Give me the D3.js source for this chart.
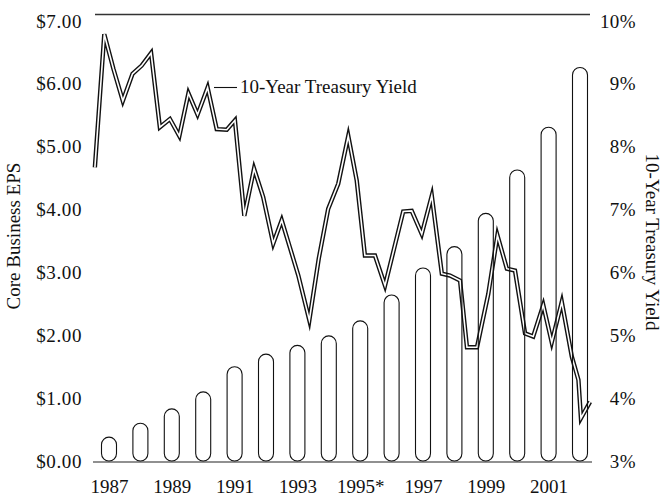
<!DOCTYPE html>
<html>
<head>
<meta charset="utf-8">
<script src="https://cdn.jsdelivr.net/npm/d3@7"></script>
<style>
  body { margin: 0; background: #fff; }
  svg { display: block; }
  text { font-family: "Liberation Serif", "Times New Roman", serif; fill: #111; }
</style>
</head>
<body>
<div id="chart"></div>
<script>
// core business EPS, one bar per year
const years = [1987, 1988, 1989, 1990, 1991, 1992, 1993, 1994, 1995, 1996, 1997, 1998, 1999, 2000, 2001, 2002];
const eps = [0.38, 0.60, 0.83, 1.10, 1.50, 1.70, 1.84, 1.99, 2.23, 2.64, 3.07, 3.41, 3.94, 4.63, 5.31, 6.26];

// 10-year treasury yield (decimal year, percent)
const yieldDates = [
  1987.05, 1987.35, 1987.64, 1987.94, 1988.25, 1988.54, 1988.84, 1989.12, 1989.44, 1989.74,
  1990.03, 1990.32, 1990.64, 1990.93, 1991.25, 1991.51, 1991.81, 1992.12, 1992.41, 1992.73,
  1993.00, 1993.26, 1993.53, 1993.88, 1994.18, 1994.48, 1994.80, 1995.12, 1995.39, 1995.65,
  1995.97, 1996.29, 1996.58, 1996.87, 1997.14, 1997.46, 1997.78, 1998.10, 1998.36, 1998.68,
  1998.90, 1999.22, 1999.58, 1999.87, 2000.17, 2000.43, 2000.75, 2001.01, 2001.33, 2001.60,
  2001.92, 2002.24, 2002.45, 2002.53, 2002.82
];
const yieldValues = [
  7.67, 9.79, 9.24, 8.73, 9.16, 9.29, 9.49, 8.31, 8.44, 8.17,
  8.85, 8.51, 8.94, 8.28, 8.27, 8.42, 6.90, 7.65, 7.20, 6.46,
  6.83, 6.40, 5.95, 5.24, 6.22, 7.01, 7.41, 8.17, 7.46, 6.27,
  6.27, 5.79, 6.38, 6.97, 6.98, 6.61, 7.22, 5.98, 5.95, 5.87,
  4.81, 4.81, 5.66, 6.59, 6.06, 6.03, 5.03, 4.98, 5.48, 4.89,
  5.53, 4.66, 4.29, 3.68, 3.94
];

const yearTicks = [1987, 1989, 1991, 1993, 1995, 1997, 1999, 2001];
const yearLabels = ["1987", "1989", "1991", "1993", "1995*", "1997", "1999", "2001"];
const epsTicks = [0, 1, 2, 3, 4, 5, 6, 7];
const yieldTicks = [3, 4, 5, 6, 7, 8, 9, 10];

const width = 663, height = 499;
const fontSize = 19;

const svg = d3.select("#chart")
  .append("svg")
  .attr("width", width)
  .attr("height", height);

const x = d3.scaleLinear().domain([1987, 2003]).range([93.3, 595.7]);
const yL = d3.scaleLinear().domain([0, 7]).range([461, 21]);
const yR = d3.scaleLinear().domain([3, 10]).range([461, 21]);

// frame lines
svg.append("line")
  .attr("x1", 95).attr("x2", 590)
  .attr("y1", 14.5).attr("y2", 14.5)
  .attr("stroke", "#333").attr("stroke-width", 1.4);

svg.append("line")
  .attr("x1", 93).attr("x2", 592)
  .attr("y1", yL(0) + 1).attr("y2", yL(0) + 1)
  .attr("stroke", "#222").attr("stroke-width", 1.2);

// treasury yield: outlined double line
const pts = yieldDates.map((t, i) => ({ t, v: yieldValues[i] }));
const line = d3.line()
  .x(d => x(d.t))
  .y(d => yR(d.v));

svg.append("path")
  .datum(pts)
  .attr("d", line)
  .attr("fill", "none")
  .attr("stroke", "#111")
  .attr("stroke-width", 4.4)
  .attr("stroke-linejoin", "miter")
  .attr("stroke-miterlimit", 6);

svg.append("path")
  .datum(pts)
  .attr("d", line)
  .attr("fill", "none")
  .attr("stroke", "#fff")
  .attr("stroke-width", 1.6)
  .attr("stroke-linejoin", "miter")
  .attr("stroke-miterlimit", 6);

// eps bars, pill shaped, no fill
const barW = 15;
svg.append("g")
  .selectAll("rect")
  .data(years)
  .join("rect")
  .attr("x", d => x(d + 0.5) - barW / 2)
  .attr("y", (d, i) => yL(eps[i]))
  .attr("width", barW)
  .attr("height", (d, i) => yL(0) - yL(eps[i]))
  .attr("rx", barW / 2)
  .attr("ry", barW / 2)
  .attr("fill", "none")
  .attr("stroke", "#111")
  .attr("stroke-width", 1.1);

// axes
const leftAxis = d3.axisLeft(yL)
  .tickValues(epsTicks)
  .tickSize(0)
  .tickPadding(4)
  .tickFormat(d3.format("$.2f"));

svg.append("g")
  .attr("transform", "translate(86,0)")
  .call(leftAxis)
  .call(g => g.select(".domain").remove())
  .selectAll("text")
  .style("font-family", "Liberation Serif, serif")
  .attr("font-size", fontSize)
  .attr("letter-spacing", "0.6px");

const rightAxis = d3.axisLeft(yR)
  .tickValues(yieldTicks)
  .tickSize(0)
  .tickPadding(4)
  .tickFormat(d => d + "%");

svg.append("g")
  .attr("transform", "translate(640,0)")
  .call(rightAxis)
  .call(g => g.select(".domain").remove())
  .selectAll("text")
  .style("font-family", "Liberation Serif, serif")
  .attr("font-size", fontSize)
  .attr("letter-spacing", "0.4px");

const bottomAxis = d3.axisBottom(x)
  .tickValues(yearTicks.map(d => d + 0.5))
  .tickSize(0)
  .tickPadding(19)
  .tickFormat((d, i) => yearLabels[i]);

svg.append("g")
  .attr("transform", `translate(0,${yL(0)})`)
  .call(bottomAxis)
  .call(g => g.select(".domain").remove())
  .selectAll("text")
  .style("font-family", "Liberation Serif, serif")
  .attr("font-size", fontSize);

// axis titles
svg.append("text")
  .attr("transform", "translate(20,236) rotate(-90)")
  .attr("text-anchor", "middle")
  .attr("font-size", fontSize)
  .text("Core Business EPS");

svg.append("text")
  .attr("transform", "translate(646,242) rotate(90)")
  .attr("text-anchor", "middle")
  .attr("font-size", fontSize)
  .text("10-Year Treasury Yield");

// series label with leader
svg.append("line")
  .attr("x1", 214).attr("x2", 237)
  .attr("y1", 87.5).attr("y2", 87.5)
  .attr("stroke", "#111").attr("stroke-width", 1.1);

svg.append("text")
  .attr("x", 240)
  .attr("y", 93)
  .attr("font-size", fontSize)
  .text("10-Year Treasury Yield");
</script>
</body>
</html>
